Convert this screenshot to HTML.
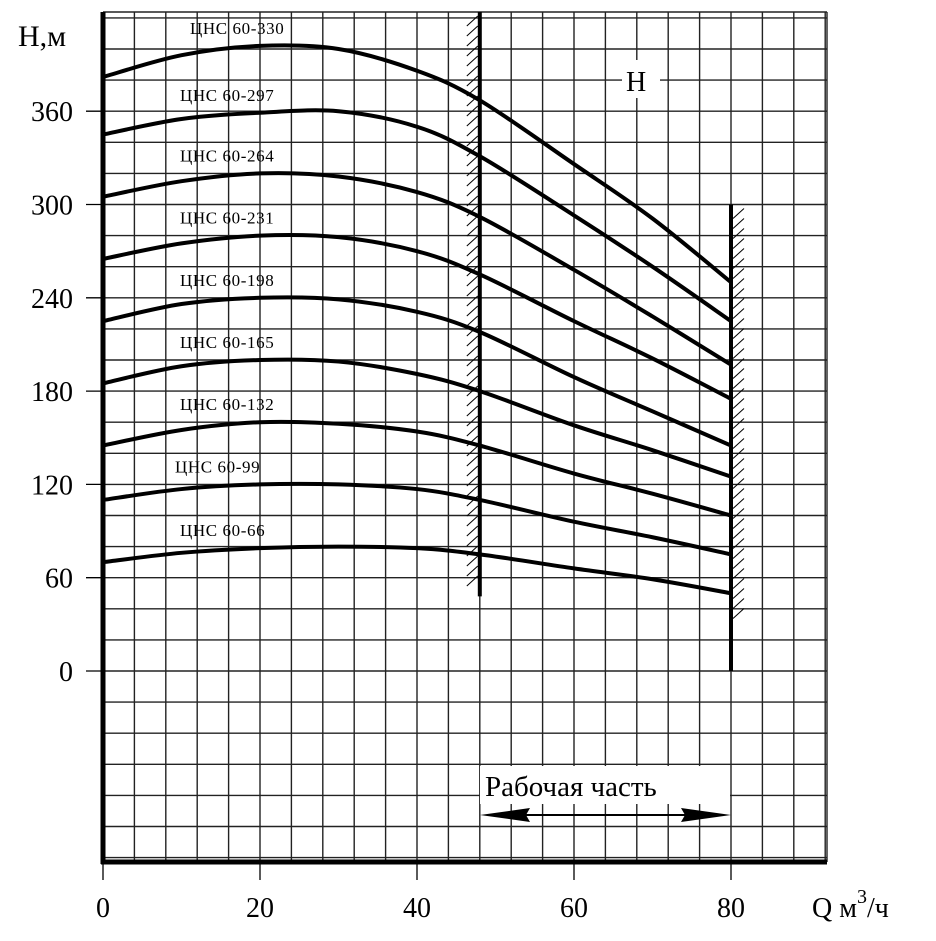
<!DOCTYPE html>
<html><head><meta charset="utf-8"><style>
body{margin:0;background:#fff}
svg text{font-family:"Liberation Serif",serif;fill:#000}
</style></head><body>
<svg width="936" height="936" viewBox="0 0 936 936" id="c">
</svg>
<script>
const xTicks=[0,20,40,60,80];
const yTicks=[0,60,120,180,240,300,360];
const qPts=[0,10,20,30,40,48,60,70,80];
const seriesNames=["ЦНС 60-330","ЦНС 60-297","ЦНС 60-264","ЦНС 60-231","ЦНС 60-198","ЦНС 60-165","ЦНС 60-132","ЦНС 60-99","ЦНС 60-66"];
const s330=[382,396,402,400,386,367,326,291,250];
const s297=[345,355,359,360,350,331,293,260,225];
const s264=[305,315,320,318,308,292,258,228,197];
const s231=[265,275,280,279,270,255,225,201,175];
const s198=[225,236,240,239,231,218,189,167,145];
const s165=[185,196,200,199,191,180,158,142,125];
const s132=[145,155,160,159,154,145,127,114,100];
const s99=[110,117,120,120,117,110,96,86,75];
const s66=[70,76,79,80,79,75,66,59,50];
const series=[s330,s297,s264,s231,s198,s165,s132,s99,s66];
const labelX=[190,180,180,180,180,180,180,175,180];

const X0=103,XS=7.85,Y0=671,YS=1.555,TOP=12,BOT=862,RIGHT=827;
const X=q=>X0+q*XS, Y=h=>Y0-h*YS;
const svg=document.getElementById('c');
const NS='http://www.w3.org/2000/svg';
function el(t,a,p){const e=document.createElementNS(NS,t);for(const k in a)e.setAttribute(k,a[k]);(p||svg).appendChild(e);return e;}

const g=el('g',{stroke:'#222','stroke-width':1.4});


for(let q=4;X(q)<=RIGHT+1;q+=4) el('line',{x1:X(q),y1:TOP,x2:X(q),y2:BOT},g);
for(let h=-120;Y(h)>=TOP-1;h+=20) if(Y(h)<BOT-2) el('line',{x1:X0,y1:Y(h),x2:RIGHT,y2:Y(h)},g);
el('line',{x1:X0,y1:TOP,x2:RIGHT,y2:TOP},g);
el('line',{x1:RIGHT,y1:TOP,x2:RIGHT,y2:BOT},g);

const hg=el('g',{stroke:'#000','stroke-width':1});


for(let y=TOP+4;y<580;y+=10) el('line',{x1:X(48)-13,y1:y+10,x2:X(48)-2,y2:y},hg);
for(let y=Y(300)+4;y<610;y+=10) el('line',{x1:X(80)+2,y1:y+10,x2:X(80)+13,y2:y},hg);

const l1=el('line',{x1:X(48),y1:TOP,x2:X(48),y2:Y(48),stroke:'#000','stroke-width':4});


const l2=el('line',{x1:X(80),y1:Y(300),x2:X(80),y2:Y(0),stroke:'#000','stroke-width':4});



const ax=el('g',{stroke:'#000'});


el('line',{x1:X0,y1:TOP,x2:X0,y2:BOT+2,'stroke-width':5},ax);
el('line',{x1:X0-2,y1:BOT,x2:RIGHT,y2:BOT,'stroke-width':5},ax);
yTicks.forEach(v=>{
 el('line',{x1:86,y1:Y(v),x2:X0,y2:Y(v),'stroke-width':1.3},ax);
 const t=el('text',{x:73,y:Y(v)+10,'font-size':28,'text-anchor':'end'});t.textContent=v;
 
 
});
xTicks.forEach(v=>{
 el('line',{x1:X(v),y1:BOT,x2:X(v),y2:BOT+18,'stroke-width':1.3},ax);
 const t=el('text',{x:X(v),y:917,'font-size':28,'text-anchor':'middle'});t.textContent=v;
 
 
});

function path(vals){
 const p=qPts.map((q,i)=>[X(q),Y(vals[i])]);
 let d='M'+p[0][0]+','+p[0][1];
 for(let i=0;i<p.length-1;i++){
  const p0=p[i-1]||p[i],p1=p[i],p2=p[i+1],p3=p[i+2]||p2;
  d+=' C'+(p1[0]+(p2[0]-p0[0])/6)+','+(p1[1]+(p2[1]-p0[1])/6)+' '+(p2[0]-(p3[0]-p1[0])/6)+','+(p2[1]-(p3[1]-p1[1])/6)+' '+p2[0]+','+p2[1];
 }
 return d;
}
series.forEach((s,i)=>{
 const c=el('path',{d:path(s),fill:'none',stroke:'#000','stroke-width':4});
 
 
 const t=el('text',{x:labelX[i],y:Y(s[2])-12,'font-size':17,'letter-spacing':'0.6'});
 t.textContent=seriesNames[i];
 
 
});
</script>
<svg width="936" height="936" style="position:absolute;left:0;top:0">
<text x="18" y="46" font-size="30">Н,м</text>
<rect x="622" y="60" width="38" height="38" fill="#fff"/>
<text x="626" y="91" font-size="28">Н</text>
<text x="812" y="917" font-size="28">Q м<tspan dy="-14" font-size="20">3</tspan><tspan dy="14">/ч</tspan></text>
<rect x="480" y="766" width="250" height="38" fill="#fff"/>
<text x="485" y="796" font-size="29">Рабочая часть</text>
<g>
<line x1="500" y1="815" x2="712" y2="815" stroke="#000" stroke-width="2"/>
<polygon points="480,815 530,808 526,815 530,822" fill="#000"/>
<polygon points="731,815 681,808 685,815 681,822" fill="#000"/>
</g>
</svg>
</body></html>
